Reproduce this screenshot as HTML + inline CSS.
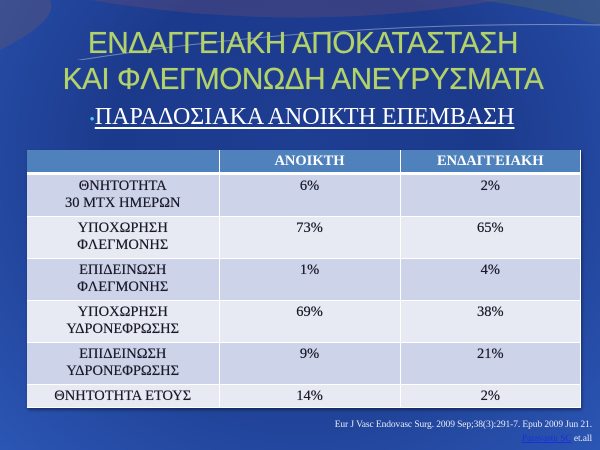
<!DOCTYPE html>
<html><head><meta charset="utf-8"><style>
body{margin:0;width:600px;height:450px;overflow:hidden;font-family:"Liberation Serif","DejaVu Serif",serif;}
.bg{position:absolute;left:0;top:0;width:600px;height:450px;background:radial-gradient(ellipse at 50% 35%,#1e3e93 0%,#1c3a8c 45%,#2b56b4 100%);}
.t{position:absolute;left:0;width:606px;text-align:center;color:#b3d36a;font-family:"Liberation Sans","DejaVu Sans",sans-serif;font-size:31px;letter-spacing:-0.5px;transform:scaleX(0.96);text-shadow:0 0 0.6px #b3d36a;}
.sub{position:absolute;left:0;width:604px;top:104px;text-align:center;color:#fff;font-size:24px;}
.sub u{text-decoration-thickness:2px;text-underline-offset:3px}
table{position:absolute;left:27px;top:150px;width:554px;border-collapse:collapse;font-size:14.5px;color:#1a1a2a;box-shadow:1px 2px 3px rgba(0,0,0,.4);}
td{border-right:1px solid #fff;border-bottom:1px solid #fff;text-align:center;vertical-align:top;padding:3px 2px 0;line-height:17px;text-shadow:0 0 0.4px #1a1a2a;}
tr.h td{background:#4f81bd;color:#fff;font-weight:bold;height:19px;padding-top:3px;border-bottom:3px solid #fff;text-shadow:none}
tr.a td{background:#cdd3e8;height:38px}
tr.b td{background:#e7eaf3;height:38px}
tr.l td{height:19px}
.ref{position:absolute;right:8px;top:418px;color:#e8ecf6;font-size:9.5px;text-align:right;line-height:14px;letter-spacing:-0.1px}
.ref span{color:#1a2fd8;text-decoration:underline}
</style></head><body>
<div class="bg"></div>
<svg style="position:absolute;left:0;top:0" width="600" height="60">
<path d="M90,0 Q300,35 500,0 Z" fill="#5a4a7a" opacity=".45"/>
<path d="M0,0 L50,0 Q60,20 0,50 Z" fill="#6d5a6e" opacity=".35"/>
<path d="M480,0 L600,0 L600,25 Q540,8 480,0Z" fill="#4a6070" opacity=".5"/>
<path d="M20,70 Q300,20 600,25" stroke="#c8d0e0" stroke-width="1" fill="none" opacity=".5"/>
</svg>
<div class="t" style="top:25px">ΕΝΔΑΓΓΕΙΑΚΗ ΑΠΟΚΑΤΑΣΤΑΣΗ</div>
<div class="t" style="top:61px">ΚΑΙ ΦΛΕΓΜΟΝΩΔΗ ΑΝΕΥΡΥΣΜΑΤΑ</div>
<div class="sub"><span style="color:#4bc8f0;font-size:15px">•</span><u>ΠΑΡΑΔΟΣΙΑΚΑ ΑΝΟΙΚΤΗ ΕΠΕΜΒΑΣΗ</u></div>
<table>
<col style="width:192px"><col style="width:181px"><col>
<tr class="h"><td></td><td>ΑΝΟΙΚΤΗ</td><td>ΕΝΔΑΓΓΕΙΑΚΗ</td></tr>
<tr class="a"><td>ΘΝΗΤΟΤΗΤΑ<br>30 ΜΤΧ ΗΜΕΡΩΝ</td><td>6%</td><td>2%</td></tr>
<tr class="b"><td>ΥΠΟΧΩΡΗΣΗ<br>ΦΛΕΓΜΟΝΗΣ</td><td>73%</td><td>65%</td></tr>
<tr class="a"><td>ΕΠΙΔΕΙΝΩΣΗ<br>ΦΛΕΓΜΟΝΗΣ</td><td>1%</td><td>4%</td></tr>
<tr class="b"><td>ΥΠΟΧΩΡΗΣΗ<br>ΥΔΡΟΝΕΦΡΩΣΗΣ</td><td>69%</td><td>38%</td></tr>
<tr class="a"><td>ΕΠΙΔΕΙΝΩΣΗ<br>ΥΔΡΟΝΕΦΡΩΣΗΣ</td><td>9%</td><td>21%</td></tr>
<tr class="b l"><td>ΘΝΗΤΟΤΗΤΑ ΕΤΟΥΣ</td><td>14%</td><td>2%</td></tr>
</table>
<div class="ref">Eur J Vasc Endovasc Surg. 2009 Sep;38(3):291-7. Epub 2009 Jun 21.<br><span>Paravastu SC</span> et.all</div>
</body></html>
